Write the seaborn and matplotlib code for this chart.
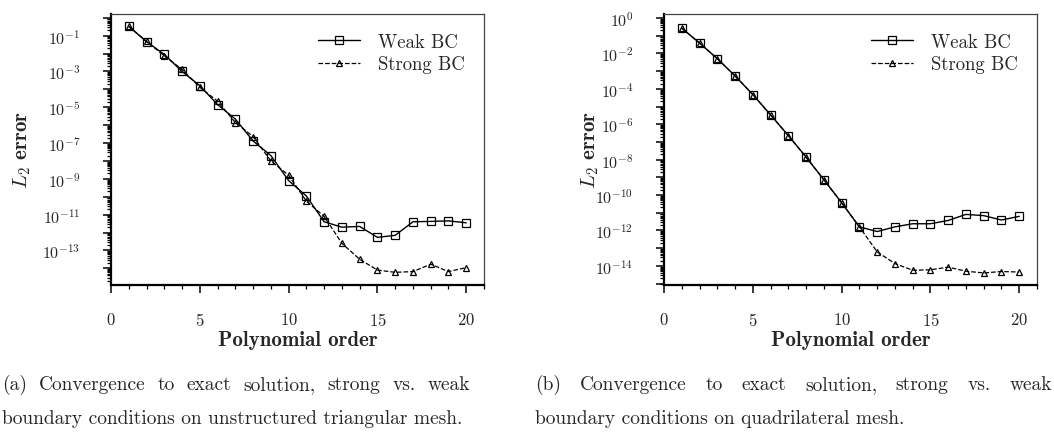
import numpy as np
import seaborn as sns
import matplotlib
matplotlib.use("Agg")
import matplotlib.pyplot as plt
from matplotlib.ticker import LogLocator, FuncFormatter, MultipleLocator

# values
order = list(range(1, 21))

tri_weak = [3.3e-1, 4.6e-2, 9.0e-3, 1.0e-3, 1.6e-4, 1.4e-5, 2.2e-6, 1.3e-7, 2.0e-8, 8.0e-10,
            1.1e-10, 4.0e-12, 2.0e-12, 2.2e-12, 5.4e-13, 7.0e-13, 4.0e-12, 4.2e-12, 4.5e-12, 3.5e-12]
tri_strong = [3.3e-1, 4.8e-2, 7.5e-3, 1.3e-3, 1.3e-4, 2.2e-5, 1.4e-6, 2.3e-7, 1.0e-8, 1.6e-9,
              5.7e-11, 8.0e-12, 2.5e-13, 3.2e-14, 8.0e-15, 6.0e-15, 6.6e-15, 1.7e-14, 6.6e-15, 1.1e-14]

quad_weak = [2.7e-1, 3.9e-2, 5.1e-3, 5.4e-4, 4.8e-5, 3.4e-6, 2.3e-7, 1.4e-8, 7.4e-10, 3.7e-11,
             1.6e-12, 8.7e-13, 1.6e-12, 2.4e-12, 2.4e-12, 3.7e-12, 8.1e-12, 6.9e-12, 3.9e-12, 6.3e-12]
quad_strong = [2.7e-1, 3.9e-2, 5.1e-3, 5.4e-4, 4.8e-5, 3.4e-6, 2.3e-7, 1.4e-8, 7.4e-10, 3.7e-11,
               1.6e-12, 6.2e-14, 1.35e-14, 5.7e-15, 6.0e-15, 8.5e-15, 5.0e-15, 4.0e-15, 4.8e-15, 4.5e-15]

captions = [
    ("(a) Convergence to exact solution, strong vs.  weak",
     "boundary conditions on unstructured triangular mesh."),
    ("(b) Convergence to exact solution, strong vs.  weak",
     "boundary conditions on quadrilateral mesh."),
]

sns.set_style("ticks")
plt.rcParams["font.family"] = ["cmr10", "DejaVu Serif"]
plt.rcParams["mathtext.fontset"] = "cm"
plt.rcParams["axes.formatter.use_mathtext"] = True

W, H = 1054, 435
fig = plt.figure(figsize=(W / 100, H / 100), dpi=100)


def px_axes(x0, x1, y0, y1):
    return fig.add_axes([x0 / W, 1 - y1 / H, (x1 - x0) / W, (y1 - y0) / H])


def style_axes(ax, ylim, odd, ylab_x):
    ax.set_yscale("log")
    ax.set_xlim(0, 21)
    ax.set_ylim(*ylim)
    ax.xaxis.set_major_locator(MultipleLocator(5))
    ax.xaxis.set_minor_locator(MultipleLocator(1))
    ax.yaxis.set_major_locator(LogLocator(base=10, numticks=40))
    ax.yaxis.set_minor_locator(LogLocator(base=10, subs=np.arange(2, 10), numticks=40))

    def fmt(v, pos):
        e = int(round(np.log10(v)))
        if (e % 2 != 0) == odd:
            return r"$10^{%d}$" % e
        return ""
    ax.yaxis.set_major_formatter(FuncFormatter(fmt))
    ax.tick_params(which="major", direction="out", length=6, width=1.1, labelsize=12, color="k")
    ax.tick_params(axis="y", which="major", labelsize=11.5)
    ax.tick_params(which="minor", direction="out", length=3, width=0.9, color="k")
    ax.tick_params(axis="x", which="major", pad=13)
    ax.tick_params(axis="y", which="major", pad=16)
    for s in ["left", "bottom"]:
        ax.spines[s].set_linewidth(1.6)
        ax.spines[s].set_color("k")
    for s in ["top", "right"]:
        ax.spines[s].set_linewidth(0.9)
        ax.spines[s].set_color("#444444")
    ax.set_xlabel("Polynomial order", fontsize=15, fontfamily="cmb10")
    ax.set_ylabel(r"$L_2$ error", fontsize=15, fontfamily="cmb10")
    ax.xaxis.set_label_coords(0.5, -0.165)
    ax.yaxis.set_label_coords(ylab_x, 0.5)
    ax.legend(loc="upper right", frameon=False, fontsize=13.5, handlelength=2.2,
              borderaxespad=0.6, labelspacing=0.25, handletextpad=1.0)


panels = [
    (px_axes(111, 484, 15, 286), tri_weak, tri_strong, (10 ** -14.93, 10 ** 0.21), True, -0.21),
    (px_axes(664, 1037, 15, 286), quad_weak, quad_strong, (10 ** -15.08, 10 ** 0.23), False, -0.17),
]

for ax, weak, strong, ylim, odd, ylx in panels:
    sns.lineplot(x=order, y=weak, ax=ax, color="k", lw=1.0, marker="s", ms=5.5,
                 mfc="none", mec="k", mew=0.9, label="Weak BC")
    sns.lineplot(x=order, y=strong, ax=ax, color="k", lw=0.9, linestyle="--", marker="^", ms=5,
                 mfc="none", mec="k", mew=0.9, label="Strong BC")
    style_axes(ax, ylim, odd, ylx)

# captions, first line justified like the LaTeX source
renderer = fig.canvas.get_renderer()
cap_fs = 14
for (line1, line2), (x0, x1) in zip(captions, [(2, 470), (535, 1052)]):
    words = line1.split()
    texts = [fig.text(0, 1 - 390 / H, w, fontsize=cap_fs, va="baseline") for w in words]
    widths = [t.get_window_extent(renderer).width for t in texts]
    gap = (x1 - x0 - sum(widths)) / (len(words) - 1)
    x = x0
    for t, w in zip(texts, widths):
        t.set_x(x / W)
        x += w + gap
    fig.text(x0 / W, 1 - 424 / H, line2, fontsize=cap_fs, va="baseline")

fig.savefig("out.png", dpi=100)
